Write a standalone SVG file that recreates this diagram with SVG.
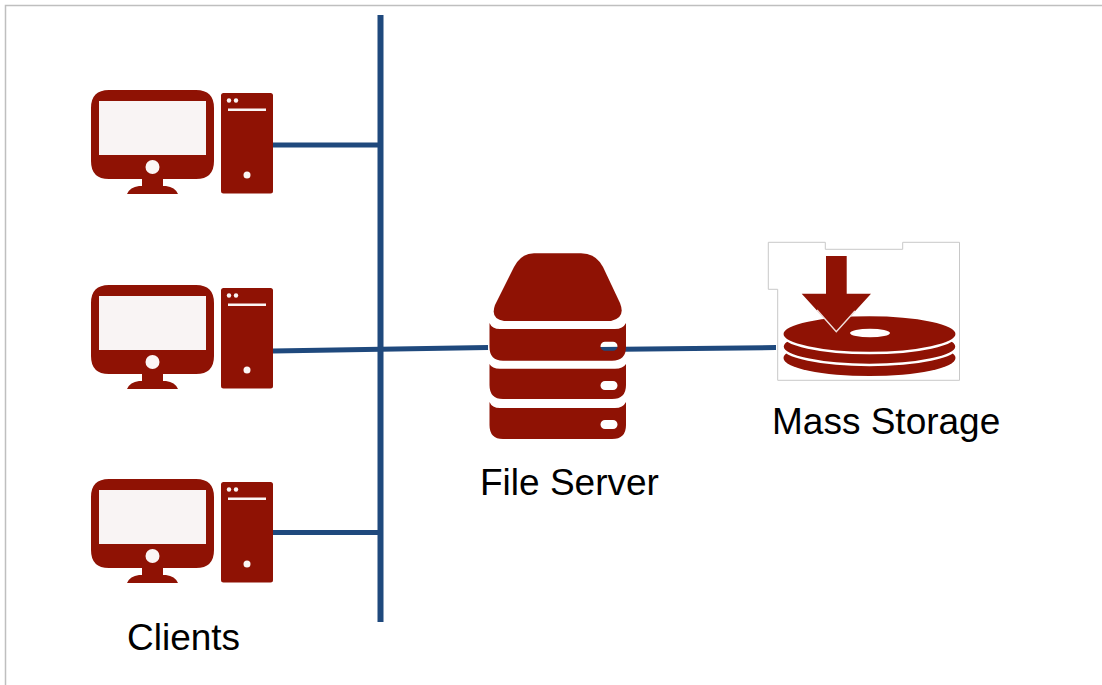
<svg xmlns="http://www.w3.org/2000/svg" width="1102" height="685" viewBox="0 0 1102 685">
<style>
.red{fill:#8f1204}
.screen{fill:#f9f4f4}
.hole{fill:#fbf6f5}
.wire{stroke:#1f497d;stroke-width:5;fill:none}
.label{font-family:"Liberation Sans",Arial,sans-serif;font-size:37px;fill:#000}
</style>
<defs>
<g id="client">
<path class="red" d="M109 90H196Q214 90 214 108V161Q214 179 196 179H163V186H166Q175 187 178 194H127Q130 187 139 186H142V179H109Q91 179 91 161V108Q91 90 109 90Z"/>
<rect class="screen" x="99" y="101" width="107" height="54"/>
<circle class="hole" cx="152.500" cy="167" r="7"/>
<rect class="red" x="221" y="93" width="52" height="100.500" rx="2.500"/>
<circle class="hole" cx="229" cy="100.500" r="2.200"/>
<circle class="hole" cx="236" cy="100.500" r="2.200"/>
<rect class="hole" x="228" y="108.500" width="38" height="2.500"/>
<circle class="hole" cx="247" cy="175" r="3.500"/>
</g>
</defs>
<rect width="1102" height="685" fill="#fff"/>
<path d="M1102 5.500H5.500V685" fill="none" stroke="#bfbfbf" stroke-width="1.500"/>
<g id="connectors">
<line class="wire" x1="380.500" y1="15" x2="380.500" y2="622" style="stroke-width:6"/>
<line class="wire" x1="273" y1="145" x2="380" y2="145"/>
<line class="wire" x1="273" y1="351" x2="488" y2="347.500"/>
<line class="wire" x1="273" y1="532.500" x2="380" y2="532.500"/>
<line class="wire" x1="600" y1="349.500" x2="776" y2="347.500"/>
</g>
<g id="client-1"><use href="#client"/></g>
<g id="client-2"><use href="#client" y="195"/></g>
<g id="client-3"><use href="#client" y="389"/></g>
<text class="label" x="127" y="650">Clients</text>
<g id="file-server">
<path class="red" d="M534 253.300H581Q596 253.300 603 267L620 303Q626 318 611 321H504Q490 319 495 305L514 267Q521 253.300 534 253.300Z"/>
<path class="red" fill-rule="evenodd" d="M489.500 323Q492 329 500 329H615Q623 329 626 323V347Q626 360.700 612 360.700H503Q489.500 360.700 489.500 347ZM605 341.700A4.500 4.500 0 0 0 605 350.700H613A4.500 4.500 0 0 0 613 341.700Z"/>
<path class="red" fill-rule="evenodd" d="M489.500 364Q492 368.700 500 368.700H615Q623 368.700 626 364V385Q626 399 612 399H503Q489.500 399 489.500 385ZM605 381A4.500 4.500 0 0 0 605 390H613A4.500 4.500 0 0 0 613 381Z"/>
<path class="red" fill-rule="evenodd" d="M489.500 402Q492 408 500 408H615Q623 408 626 402V425Q626 439 612 439H503Q489.500 439 489.500 425ZM605 420A4.500 4.500 0 0 0 605 429H613A4.500 4.500 0 0 0 613 420Z"/>
<text class="label" x="480" y="495">File Server</text>
</g>
<g id="mass-storage">
<path d="M768.300 242.300H825.300V249.300H902.700V242.300H959.500V380.300H777.700V289.300H768.300Z" fill="#fff" stroke="#c8c8c8" stroke-width="1"/>
<ellipse class="red" cx="869.500" cy="358" rx="86" ry="18"/>
<ellipse class="red" cx="869.500" cy="346.500" rx="87" ry="18.500" stroke="#fff" stroke-width="2.500"/>
<ellipse class="red" cx="869.500" cy="334" rx="87.200" ry="19" stroke="#fff" stroke-width="2.500"/>
<ellipse cx="870" cy="333" rx="20" ry="4.300" fill="#fff"/>
<path class="red" d="M826 256H846.700V293.700H871L836.300 331.700L801.700 293.700H826Z"/>
<path d="M817 310L836.300 331.700L855 311" fill="none" stroke="#f0dedb" stroke-width="1.500"/>
<text class="label" x="772" y="434">Mass Storage</text>
</g>
</svg>
